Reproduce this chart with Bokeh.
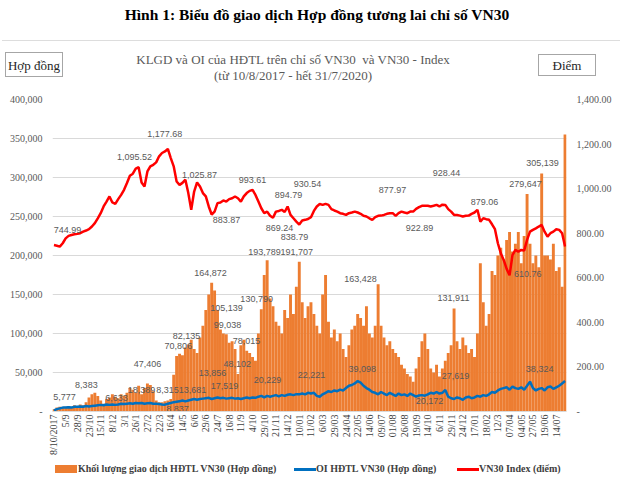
import math
from bokeh.plotting import figure
from bokeh.layouts import column
from bokeh.models import (Range1d, LinearAxis, FixedTicker, NumeralTickFormatter,
                          ColumnDataSource, Div)
from bokeh.core.properties import value
from bokeh.embed import file_html
from bokeh.resources import INLINE

# ---------------- data (sampled ~every 4 trading days, 10/8/2017 - 31/7/2020) ----------------
vn30_index = [
    747, 744, 740, 755, 777, 788, 792, 795, 797, 800,
    807, 812, 818, 830, 845, 867, 890, 920, 942, 965,
    938, 932, 953, 972, 995, 1025, 1058, 1067, 1090, 1096,
    1028, 1010, 1077, 1100, 1107, 1118, 1145, 1160, 1167, 1178,
    1137, 1100, 1032, 1017, 1026, 1040, 980, 905, 987, 1028,
    1010, 980, 965, 920, 884, 897, 935, 938, 947, 942,
    953, 957, 965, 957, 942, 965, 980, 990, 994, 972,
    942, 912, 890, 897, 878, 869, 897, 900, 905, 895,
    920, 882, 867, 852, 839, 857, 860, 864, 872, 900,
    920, 931, 927, 932, 927, 908, 902, 897, 890, 887,
    882, 890, 893, 897, 893, 887, 878, 875, 867, 860,
    872, 878, 879, 882, 887, 890, 890, 878, 890, 897,
    893, 890, 897, 897, 909, 917, 923, 923, 923, 920,
    923, 927, 920, 928, 927, 908, 897, 882, 882, 879,
    875, 878, 879, 887, 893, 905, 852, 867, 863, 860,
    840, 818, 755, 710, 680, 640, 611, 702, 725, 717,
    725, 722, 770, 807, 815, 822, 830, 837, 807, 785,
    800, 807, 818, 815, 800, 740,
]

# trading volume, thousands of contracts
volume_k = [
    3, 5, 6, 5, 6, 7, 6, 8, 7, 9,
    8, 12, 18, 22, 24, 20, 14, 10, 16, 18,
    22, 19, 17, 22, 20, 24, 30, 28, 24, 33,
    22, 30, 36, 34, 26, 14, 12, 12, 13, 14,
    16, 47, 71, 74, 72, 82, 86, 92, 80, 75,
    95, 110, 130, 150, 165, 155, 130, 105, 100, 99,
    88, 90, 80, 48, 85, 92, 78, 75, 70, 65,
    100, 131, 175, 194, 145, 135, 115, 110, 100, 130,
    120, 150, 125, 160, 192, 140, 120, 135, 140, 125,
    110, 100, 150, 175, 115, 95, 105, 90, 100, 80,
    70, 85, 105, 110, 125, 120, 110, 135, 100, 95,
    110, 163, 110, 95, 85, 90, 80, 75, 70, 60,
    55, 48, 45, 38, 55, 70, 90, 100, 80, 55,
    50, 60, 45, 55, 65, 75, 85, 132, 90, 80,
    95, 85, 75, 80, 70, 100, 190, 140, 110, 125,
    180, 175, 200, 210, 195, 220, 230, 205, 215, 230,
    190, 225, 279, 215, 190, 200, 185, 305, 200, 200,
    195, 215, 180, 185, 160, 355,
]

# open interest, thousands of contracts
oi_k = [
    1.5, 3, 4, 5, 5, 5.5, 5, 6, 6, 6.5,
    6, 7, 6.5, 7, 7.5, 8, 8.5, 8, 9, 8.5,
    9, 8.5, 9, 10, 9.5, 10, 10.5, 10, 11, 10.5,
    11, 10, 10.5, 11, 10, 10, 9.5, 9, 8.8, 10,
    11, 12, 12.5, 13, 14, 13, 14, 15, 16, 15,
    16, 16.5, 17, 17.5, 16, 17, 18, 17, 17.5, 16.5,
    17, 17.5, 16.5, 17, 16, 17, 18, 17, 18, 17.5,
    19, 20, 18, 20, 19, 20, 21, 19.5, 21, 20,
    21.5, 22, 21, 22.2, 22, 23, 22, 24, 23, 24,
    20, 19, 22, 24, 26, 25, 27, 26, 28, 27,
    30, 33, 34, 36, 39, 37, 33, 30, 28, 25,
    24, 22, 25, 23, 21, 24, 22, 20, 23, 21,
    22, 20, 23, 21, 19, 20.5, 21, 20.2, 22, 24,
    23, 25, 23, 24, 27.6, 19, 17, 16, 18, 17,
    15, 18, 19, 17, 18, 20, 19, 21, 20, 22,
    25, 24, 27, 29, 30, 31, 28, 32, 30, 29,
    31, 28, 33, 38.3, 30, 27, 29, 30, 27, 31,
    32, 29, 31, 33, 36, 39,
]

x_labels = ["8/10/2017", "5/9", "28/9", "23/10", "15/11", "8/12", "3/1", "26/1", "27/2", "22/3",
            "16/4", "14/5", "6/6", "29/6", "24/7", "16/8", "11/9", "4/10", "29/10", "21/11",
            "14/12", "10/01", "11/02", "6/03", "29/03", "24/04", "22/05", "14/06", "09/07", "01/08",
            "26/08", "19/09", "14/10", "6/11", "29/11", "24/12", "17/01", "18/02", "12/3", "07/04",
            "04/05", "27/05", "19/06", "14/07"]
label_step = 4  # samples between category labels

# data labels of the VN30 index (text, position index, position in index points)
vn_lab_text = ["744.99", "1,095.52", "1,177.68", "1,025.87", "883.87", "993.61", "894.79", "869.24",
               "838.79", "930.54", "877.97", "922.89", "928.44", "879.06", "610.76"]
vn_lab_x = [4.6, 27.6, 37.9, 49.8, 59.1, 68.0, 80.3, 77.2, 82.4, 86.8, 115.9, 125.2, 134.4, 147.4, 162.2]
vn_lab_y = [816, 1144, 1243, 1063, 861, 1041, 973, 825, 781, 1023, 996, 825, 1068, 938, 615]

# data labels of volume / OI (text, position index, position in contracts, thousands)
q_lab_text = ["5,777", "8,383", "6,633", "18,389", "8,315", "8,837", "47,406", "13,681", "13,856",
              "17,519", "70,806", "82,135", "105,139", "99,038", "78,015", "48,102", "164,872",
              "130,790", "193,789", "191,707", "20,229", "22,221", "39,098", "163,428", "131,911",
              "27,619", "20,172", "279,647", "305,139", "38,324"]
q_lab_x = [3.6, 11.1, 21.4, 30.0, 38.9, 42.3, 32.0, 47.4, 54.3, 58.4, 42.6, 45.4, 59.1, 59.4, 65.9,
           62.8, 53.6, 69.4, 72.1, 83.1, 73.1, 88.2, 105.6, 105.0, 136.8, 137.5, 128.6, 161.5, 167.3, 166.3]
q_lab_y_k = [19.2, 34.6, 16.7, 28.2, 28.2, 2.6, 60.3, 28.2, 50.0, 33.3, 84.6, 97.4, 133.3, 111.5, 91.0,
             61.5, 177.0, 143.6, 205.0, 205.0, 41.0, 47.4, 55.0, 170.5, 144.9, 44.9, 14.1, 292.0, 319.0, 55.0]

title_text = "Hình 1: Biểu đồ giao dịch Hợp đồng tương lai chỉ số VN30"
subtitle_lines = ["KLGD và OI của HĐTL trên chỉ số VN30&nbsp; và VN30 - Index",
                  "(từ 10/8/2017 - hết 31/7/2020)"]
left_unit = "Hợp đồng"
right_unit = "Điểm"
legend_labels = ["Khối lượng giao dịch HĐTL VN30 (Hợp đồng)", "OI HĐTL VN30 (Hợp đồng)",
                 "VN30 Index (điểm)"]

ORANGE, BLUE, RED = "#ED7D31", "#0070C0", "#FF0000"
serif = "Liberation Serif"
W = 614

# ---------------- header (HTML text) ----------------
abs_ = "position:absolute;white-space:nowrap;"
header_html = (
    f'<div style="position:relative;width:{W}px;height:82px;font-family:\'{serif}\',serif;">'
    f'<div style="{abs_}left:5px;top:0px;width:{W}px;text-align:center;font-size:15.5px;'
    f'font-weight:bold;line-height:20px;color:#000;">{title_text}</div>'
    f'<div style="position:absolute;left:-3px;top:35px;width:618px;height:1px;background:#DDDDDD;"></div>'
    f'<div style="{abs_}left:-19px;top:46px;width:{W}px;text-align:center;font-size:13px;'
    f'line-height:17px;color:#595959;">{subtitle_lines[0]}</div>'
    f'<div style="{abs_}left:-19px;top:62px;width:{W}px;text-align:center;font-size:13px;'
    f'line-height:17px;color:#595959;">{subtitle_lines[1]}</div>'
    f'<div style="{abs_}left:0px;top:47px;width:58px;height:25px;border:1px solid #A6A6A6;'
    f'text-align:center;line-height:25px;font-size:13px;color:#262626;">{left_unit}</div>'
    f'<div style="{abs_}left:533px;top:49px;width:58px;height:22px;border:1px solid #A6A6A6;'
    f'text-align:center;line-height:22px;font-size:13px;color:#262626;">{right_unit}</div>'
    '</div>'
)
header = Div(text=header_html, width=W, height=82)

# ---------------- main chart ----------------
n = len(vn30_index)
idx = list(range(n))
src = ColumnDataSource(dict(x=idx, vol=[v * 1000 for v in volume_k],
                            oi=[v * 1000 for v in oi_k], vn=vn30_index))

p = figure(width=W, frame_width=514, frame_height=312, output_backend="svg", toolbar_location=None,
           x_range=Range1d(-0.5, n - 0.5), y_range=Range1d(0, 400000),
           min_border_left=45, min_border_right=55, min_border_top=7, min_border_bottom=46)
p.margin = (0, 0, 0, 6)
p.title.visible = False
p.extra_y_ranges = {"vn30": Range1d(0, 1400)}
p.outline_line_color = None

left_ticker = FixedTicker(ticks=list(range(0, 400001, 50000)))
ya = p.yaxis[0]
ya.ticker = left_ticker
ya.formatter = NumeralTickFormatter(format="0,0")
ya.major_label_overrides = {0: "-"}
p.ygrid[0].ticker = left_ticker
p.ygrid.grid_line_color = "#D9D9D9"
p.xgrid.visible = False

xa = p.xaxis[0]
ticks = [k * label_step for k in range(len(x_labels))]
xa.ticker = FixedTicker(ticks=ticks)
xa.major_label_overrides = {t: lab for t, lab in zip(ticks, x_labels)}
xa.major_label_orientation = math.pi / 2
xa.axis_line_color = "#D9D9D9"
xa.major_label_text_color = "#404040"
xa.major_label_standoff = 3

ra = LinearAxis(y_range_name="vn30", ticker=FixedTicker(ticks=list(range(0, 1401, 200))),
                formatter=NumeralTickFormatter(format="0,0.00"), major_label_overrides={0: "-"})
p.add_layout(ra, "right")

for ax in (xa, ya, ra):
    ax.major_tick_line_color = None
    ax.minor_tick_line_color = None
    ax.major_tick_out = 0
    ax.major_tick_in = 0
    ax.minor_tick_out = 0
    ax.minor_tick_in = 0
    ax.major_label_text_font = serif
    ax.major_label_text_font_size = "10px"
for ax in (ya, ra):
    ax.axis_line_color = None
    ax.major_label_text_color = "#595959"
    ax.major_label_standoff = 10

p.vbar(x="x", top="vol", width=1.0, source=src, fill_color=ORANGE, line_color=None)
p.line("x", "oi", source=src, line_color=BLUE, line_width=2.5)
p.line("x", "vn", source=src, y_range_name="vn30", line_color=RED, line_width=2.5)

lab_font = value("Liberation Sans")
p.text(x=vn_lab_x, y=vn_lab_y, text=vn_lab_text, y_range_name="vn30", text_font=lab_font,
       text_font_size="9px", text_color="#595959", text_align="center", text_baseline="middle")
p.text(x=q_lab_x, y=[v * 1000 for v in q_lab_y_k], text=q_lab_text, text_font=lab_font,
       text_font_size="9px", text_color="#595959", text_align="center", text_baseline="middle")

# ---------------- legend (HTML) ----------------
leg_text = "font-size:10px;font-weight:bold;line-height:14px;color:#404040;top:-1px;"
legend_html = (
    f'<div style="position:relative;width:{W}px;height:20px;font-family:\'{serif}\',serif;">'
    f'<div style="position:absolute;left:50px;top:2px;width:22px;height:8px;background:{ORANGE};"></div>'
    f'<div style="{abs_}{leg_text}left:73px;">{legend_labels[0]}</div>'
    f'<div style="position:absolute;left:289px;top:5px;width:22px;height:3px;background:{BLUE};"></div>'
    f'<div style="{abs_}{leg_text}left:311px;">{legend_labels[1]}</div>'
    f'<div style="position:absolute;left:452px;top:5px;width:22px;height:3px;background:{RED};"></div>'
    f'<div style="{abs_}{leg_text}left:474px;">{legend_labels[2]}</div>'
    '</div>'
)
legend = Div(text=legend_html, width=W, height=20)

layout = column(header, p, legend, spacing=0)
open("out.html", "w").write(file_html(layout, INLINE))
